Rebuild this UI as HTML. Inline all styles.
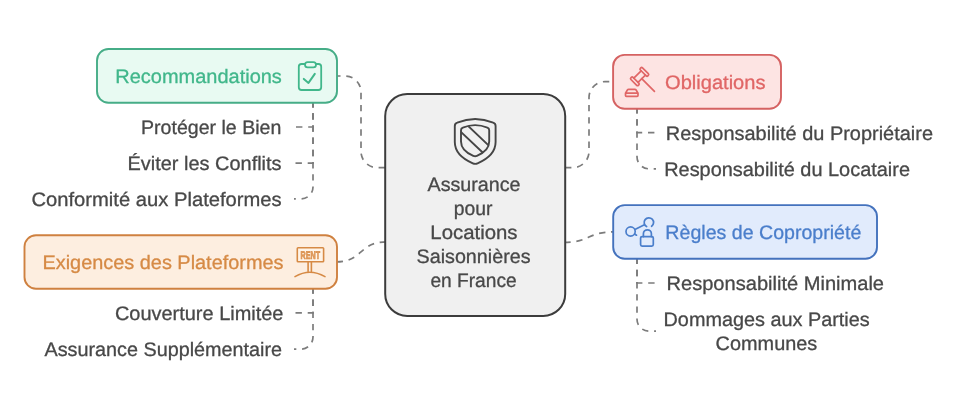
<!DOCTYPE html>
<html><head><meta charset="utf-8">
<style>
html,body{margin:0;padding:0;background:#fff;}
svg{display:block;font-family:"Liberation Sans",sans-serif;will-change:transform;}
text{text-rendering:geometricPrecision;}
.d{fill:none;stroke:#7c7c7c;stroke-width:1.7;stroke-dasharray:6.4 5.8;}
</style></head>
<body>
<svg width="962" height="410" viewBox="0 0 962 410">
<rect width="962" height="410" fill="#ffffff"/>
<!-- main connectors -->
<path class="d" d="M385 167.6 H377 A16 16 0 0 1 361 151.6 V92 A16 16 0 0 0 345 76 H336"/>
<path class="d" d="M386.3 241.9 C359 241.9 363 261.9 336 261.9"/>
<path class="d" d="M565 167.6 H573 A16 16 0 0 0 589 151.6 V97.6 A16 16 0 0 1 605 81.6 H614"/>
<path class="d" d="M564 242.3 C591 242.3 587 231.9 614 231.9"/>

<!-- sub connectors: left top (y0=101) -->
<path class="d" d="M313 101 V186.9 A12 12 0 0 1 301 198.9 H294"/>
<path class="d" d="M313 101 V127 H294"/>
<path class="d" d="M313 101 V163.1 H294"/>
<!-- left bottom (y0=287.3) -->
<path class="d" d="M313 287.3 V337.1 A12 12 0 0 1 301 349.1 H294"/>
<path class="d" d="M313 287.3 V312.8 H294"/>
<!-- right top (y0=107) -->
<path class="d" d="M637 107 V156.8 A12 12 0 0 0 649 168.8 H656"/>
<path class="d" d="M637 107 V132.6 H656"/>
<!-- right bottom (y0=257.6) -->
<path class="d" d="M637 257.6 V319.2 A12 12 0 0 0 649 331.2 H656"/>
<path class="d" d="M637 257.6 V283 H656"/>

<!-- center box -->
<rect x="385.2" y="94" width="180" height="222" rx="22" ry="22" fill="#f0f0f0" stroke="#3c3c3c" stroke-width="2"/>
<g fill="none" stroke="#454545" stroke-width="1.9" stroke-linejoin="round" stroke-linecap="round">
<path d="M454.8 126 Q454.8 123.4 457.2 122.6 Q475.2 115.4 493.2 122.6 Q495.6 123.4 495.6 126 L495.6 142 Q495.6 155.5 477.6 163.3 Q475.2 164.4 472.8 163.3 Q454.8 155.5 454.8 142 Z"/>
<path d="M461 130.2 Q461 128.4 462.8 127.7 Q475.1 122.6 487.4 127.7 Q489.2 128.4 489.2 130.2 L489.2 141.5 Q489.2 150.6 476.9 155.9 Q475.1 156.7 473.3 155.9 Q461 150.6 461 141.5 Z"/>
<clipPath id="shc"><path d="M461 130.2 Q461 128.4 462.8 127.7 Q475.1 122.6 487.4 127.7 Q489.2 128.4 489.2 130.2 L489.2 141.5 Q489.2 150.6 476.9 155.9 Q475.1 156.7 473.3 155.9 Q461 150.6 461 141.5 Z"/></clipPath>
<path clip-path="url(#shc)" d="M465 123 L492 148.6 M458.3 129.4 L486.1 155.7"/>
</g>

<!-- Recommandations -->
<rect x="97" y="49" width="240" height="53.8" rx="11.5" fill="#e8faf2" stroke="#46ad87" stroke-width="1.9"/>
<g fill="none" stroke="#41b78b" stroke-width="1.8" stroke-linejoin="round" stroke-linecap="round">
<path d="M305 64 L301.5 64 Q298.8 64 298.8 66.7 L298.8 87.3 Q298.8 90 301.5 90 L318.5 90 Q321.2 90 321.2 87.3 L321.2 66.7 Q321.2 64 318.5 64 L316 64"/>
<rect x="305" y="62.1" width="11" height="5.3" rx="2.6"/>
<path d="M303.8 78.9 L308.5 82.9 L314.8 73.9" stroke-width="2"/>
</g>

<!-- Exigences -->
<rect x="24.5" y="235.2" width="312.5" height="53.6" rx="11.5" fill="#fdeee0" stroke="#cf8140" stroke-width="1.9"/>
<g fill="none" stroke="#d68a45" stroke-width="1.6" stroke-linejoin="round" stroke-linecap="round">
<rect x="297.3" y="247.8" width="26.3" height="14" rx="0.8" fill="#fff4e8"/>
<path d="M308.1 262 L308.1 271.4 M311.4 262 L311.4 271.4"/>
<path d="M295 276.6 Q309.8 267.8 325 276.6"/>
</g>
<text x="300.6" y="258.9" font-size="11" font-weight="bold" fill="#e8a468" stroke="#d68a45" stroke-width="0.7" textLength="19.4" lengthAdjust="spacingAndGlyphs">RENT</text>

<!-- Obligations -->
<rect x="613.1" y="54.9" width="167.9" height="53.9" rx="11.5" fill="#fde4e3" stroke="#d56262" stroke-width="1.9"/>
<g fill="none" stroke="#e06666" stroke-width="1.7" stroke-linejoin="round" stroke-linecap="round">
<g transform="translate(639.6 76.6) rotate(-45)">
<rect x="-8.2" y="-5.3" width="3" height="10.6" rx="1.2"/>
<rect x="5.2" y="-5.3" width="3" height="10.6" rx="1.2"/>
<path d="M-5.2 -3 L5.2 -3 M-5.2 3 L5.2 3"/>
<path d="M0 3 L0 21"/>
</g>
<path d="M627.4 90 Q627.8 89.4 628.6 89.4 L634.9 89.4 Q635.7 89.4 636.1 90 L638 93.1 L638 95.5 Q638 96.4 637.1 96.4 L626.4 96.4 Q625.5 96.4 625.5 95.5 L625.5 93.1 Z M625.5 93.1 L638 93.1"/>
</g>

<!-- Regles -->
<rect x="613.2" y="205.1" width="263.8" height="53.7" rx="11.5" fill="#e1ebfc" stroke="#4472bd" stroke-width="1.9"/>
<g fill="none" stroke="#4a7ecb" stroke-width="1.7" stroke-linejoin="round" stroke-linecap="round">
<circle cx="630.6" cy="231.5" r="4.6"/>
<path d="M646.6 226.6 A4.7 4.7 0 1 1 651.6 226.3"/>
<path d="M634.9 229.4 L644.4 224.7"/>
<path d="M634.6 234 L636.5 235.2"/>
<rect x="640.6" y="236.6" width="12.7" height="9.5" rx="1.5"/>
<path d="M643.4 236.6 L643.4 233.8 A4 4 0 0 1 651.4 233.8 L651.4 236.6"/>
</g>

<g>
<text x="115.27" y="83.0" fill="#41b78b" stroke="#41b78b" stroke-width="0.3" font-size="19.5" textLength="166.60" lengthAdjust="spacingAndGlyphs">Recommandations</text>
<text x="141.06" y="134.0" fill="#484848" stroke="#484848" stroke-width="0.3" font-size="19.5" textLength="140.29" lengthAdjust="spacingAndGlyphs">Protéger le Bien</text>
<text x="127.53" y="170.0" fill="#484848" stroke="#484848" stroke-width="0.3" font-size="19.5" textLength="154.03" lengthAdjust="spacingAndGlyphs">Éviter les Conflits</text>
<text x="31.46" y="206.0" fill="#484848" stroke="#484848" stroke-width="0.3" font-size="19.5" textLength="250.25" lengthAdjust="spacingAndGlyphs">Conformité aux Plateformes</text>
<text x="42.47" y="269.0" fill="#d68a45" stroke="#d68a45" stroke-width="0.3" font-size="19.5" textLength="241.03" lengthAdjust="spacingAndGlyphs">Exigences des Plateformes</text>
<text x="114.93" y="320.0" fill="#484848" stroke="#484848" stroke-width="0.3" font-size="19.5" textLength="168.54" lengthAdjust="spacingAndGlyphs">Couverture Limitée</text>
<text x="44.53" y="356.0" fill="#484848" stroke="#484848" stroke-width="0.3" font-size="19.5" textLength="237.47" lengthAdjust="spacingAndGlyphs">Assurance Supplémentaire</text>
<text x="665.00" y="89.0" fill="#e06666" stroke="#e06666" stroke-width="0.3" font-size="19.5" textLength="100.52" lengthAdjust="spacingAndGlyphs">Obligations</text>
<text x="665.77" y="140.0" fill="#484848" stroke="#484848" stroke-width="0.3" font-size="19.5" textLength="267.22" lengthAdjust="spacingAndGlyphs">Responsabilité du Propriétaire</text>
<text x="664.20" y="176.0" fill="#484848" stroke="#484848" stroke-width="0.3" font-size="19.5" textLength="245.78" lengthAdjust="spacingAndGlyphs">Responsabilité du Locataire</text>
<text x="665.36" y="239.0" fill="#4a7ecb" stroke="#4a7ecb" stroke-width="0.3" font-size="19.5" textLength="195.98" lengthAdjust="spacingAndGlyphs">Règles de Copropriété</text>
<text x="666.52" y="290.0" fill="#484848" stroke="#484848" stroke-width="0.3" font-size="19.5" textLength="217.51" lengthAdjust="spacingAndGlyphs">Responsabilité Minimale</text>
<text x="663.56" y="326.0" fill="#484848" stroke="#484848" stroke-width="0.3" font-size="19.5" textLength="206.12" lengthAdjust="spacingAndGlyphs">Dommages aux Parties</text>
<text x="715.61" y="350.0" fill="#484848" stroke="#484848" stroke-width="0.3" font-size="19.5" textLength="101.69" lengthAdjust="spacingAndGlyphs">Communes</text>
<text x="427.53" y="191.0" fill="#484848" stroke="#484848" stroke-width="0.3" font-size="19.5" textLength="93.07" lengthAdjust="spacingAndGlyphs">Assurance</text>
<text x="453.86" y="215.0" fill="#484848" stroke="#484848" stroke-width="0.3" font-size="19.5" textLength="38.67" lengthAdjust="spacingAndGlyphs">pour</text>
<text x="430.31" y="239.0" fill="#484848" stroke="#484848" stroke-width="0.3" font-size="19.5" textLength="87.23" lengthAdjust="spacingAndGlyphs">Locations</text>
<text x="416.57" y="263.0" fill="#484848" stroke="#484848" stroke-width="0.3" font-size="19.5" textLength="113.95" lengthAdjust="spacingAndGlyphs">Saisonnières</text>
<text x="430.40" y="287.0" fill="#484848" stroke="#484848" stroke-width="0.3" font-size="19.5" textLength="86.29" lengthAdjust="spacingAndGlyphs">en France</text>
</g>
</svg>
</body></html>
